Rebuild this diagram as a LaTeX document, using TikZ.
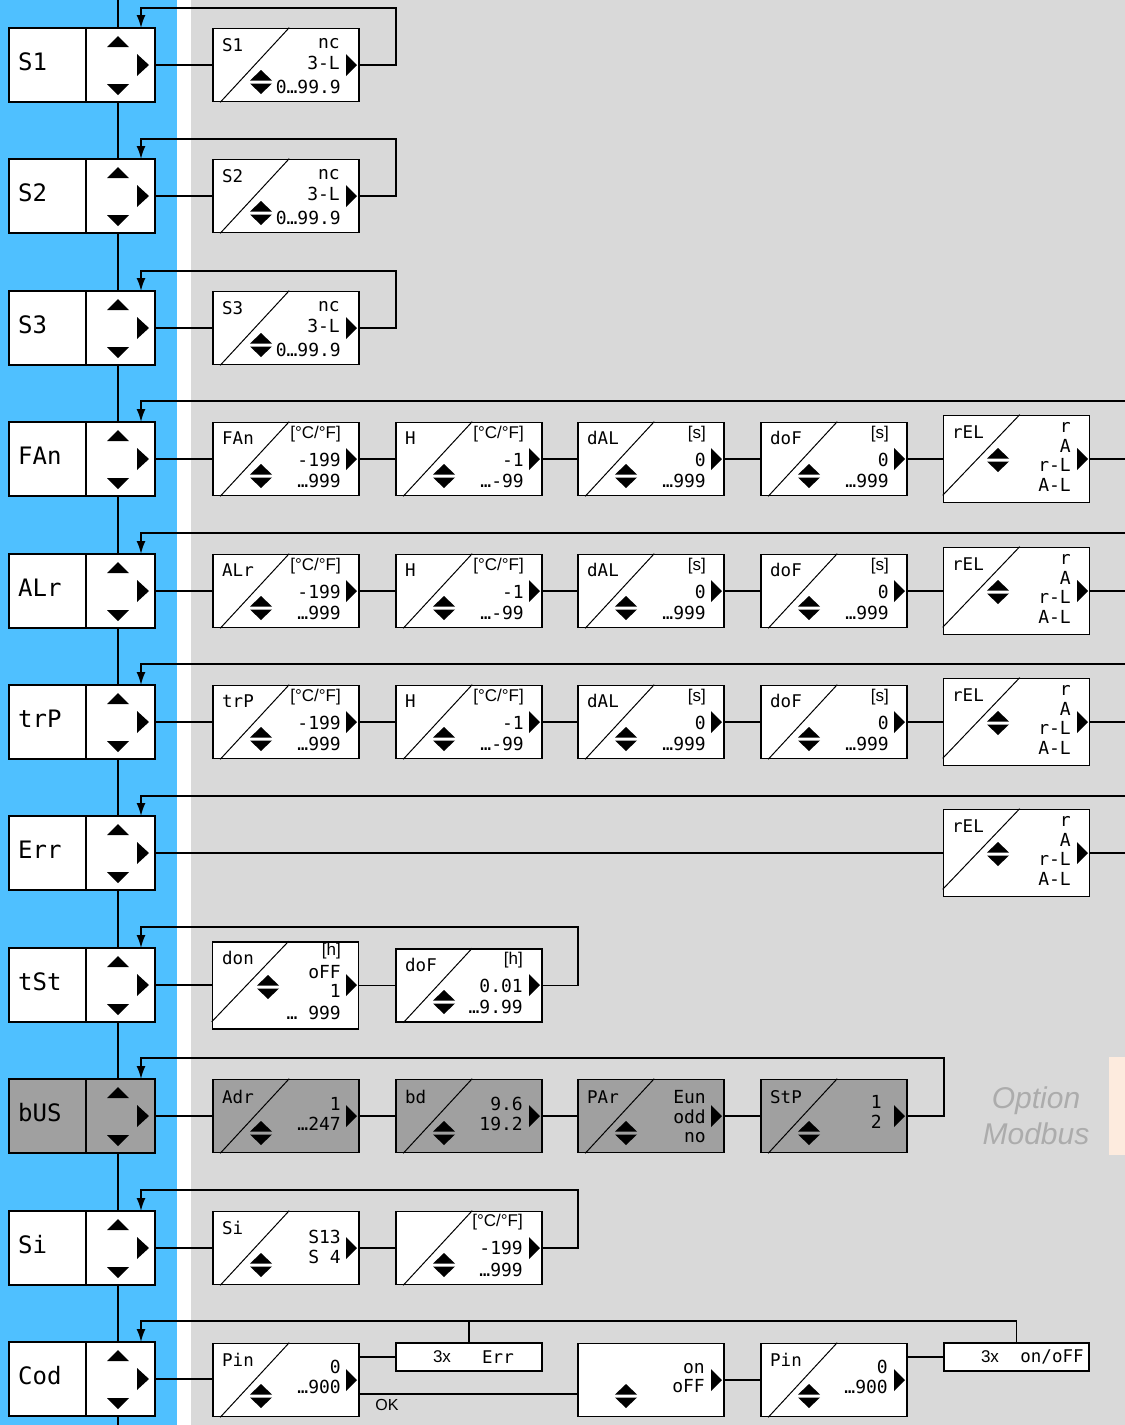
\documentclass[tikz,border=0pt]{standalone}
\usepackage{fontspec}
\setmainfont{Liberation Sans}
\newfontfamily\seg{DejaVu Sans Mono}
\usetikzlibrary{arrows.meta,calc}
\definecolor{bluebg}{RGB}{79,192,255}
\definecolor{graybg}{RGB}{217,217,217}
\definecolor{busgray}{RGB}{160,160,160}
\definecolor{peach}{RGB}{253,235,222}
\definecolor{optgray}{RGB}{172,172,172}
\tikzset{
 ln/.style={line width=1.7pt},
 mainbox/.style={draw, line width=1.6pt, minimum width=146pt, minimum height=74pt, inner sep=0pt},
 pbox/.style={draw, line width=1.6pt, minimum width=146pt, inner sep=0pt},
 smallbox/.style={draw, line width=1.6pt, fill=white, minimum width=146pt, minimum height=28pt, inner sep=0pt},
 seglab/.style={font=\seg\fontsize{24}{24}\selectfont, inner sep=0pt, anchor=west},
 pl/.style={font=\seg\fontsize{17.5}{17.5}\selectfont, inner sep=0pt, anchor=west},
 pv/.style={font=\seg\fontsize{18}{19.5}\selectfont, inner sep=0pt, anchor=east},
 unit/.style={font=\fontsize{17}{17}\selectfont, inner sep=0pt, anchor=east},
 arial/.style={font=\fontsize{17}{17}\selectfont, inner sep=0pt},
 arr/.style={line width=1.7pt, -{Latex[length=13pt,width=9pt]}},
 diag/.style={line width=1pt},
}
\newcommand\UD[2]{\fill (#1-11,#2-1.5) -- (#1+11,#2-1.5) -- (#1,#2-12) -- cycle;
 \fill (#1-11,#2+1.5) -- (#1+11,#2+1.5) -- (#1,#2+12) -- cycle;}
\newcommand\RT[2]{\fill (#1-11,#2-11) -- (#1,#2) -- (#1-11,#2+11) -- cycle;}
\newcommand\MainBox[4]{%
 \node[mainbox, fill=#4] (#1) at (82,#2) {};
 \draw[ln] (86,#2-37) -- (86,#2+37);
 \node[seglab] (#1-lab) at (18,#2-3) {#3};
 \fill (107,#2-18) -- (129,#2-18) -- (118,#2-29) -- cycle;
 \fill (107,#2+19) -- (129,#2+19) -- (118,#2+30) -- cycle;
 \fill (137,#2-11) -- (149,#2) -- (137,#2+11) -- cycle;
 \coordinate (#1-up) at (118,#2-37);
 \coordinate (#1-dn) at (118,#2+37);
 \coordinate (#1-in) at (141,#2-37);
}
\newcommand\PBox[4]{% name, xl, yc, fill
 \node[pbox, fill=#4, minimum height=73pt] (#1) at (#2+73,#3) {};
 \draw[diag] ([xshift=8pt]#1.south west) -- ([xshift=77pt]#1.north west);
}
\newcommand\PBoxT[4]{% tall box
 \node[pbox, fill=#4, minimum height=87pt] (#1) at (#2+72.5,#3) {};
 \draw[diag] ([yshift=8pt]#1.south west) -- ([xshift=77pt]#1.north west);
}
\newcommand\RelBox[2]{% name, yc
 \PBoxT{#1}{944}{#2}{white}
 \node[pl] (#1-l) at (952,#2-27) {rEL};
 \node[pv, align=right] (#1-v) at (1071,#2-2) {r\\A\\r-L\\A-L};
 \UD{998}{#2+1}
 \RT{1088}{#2}
}
\newcommand\TempRow[4]{% main name, yc, label, row tag
 \MainBox{#1}{#2}{#3}{white}
 \PBox{#4a}{213}{#2}{white}
 \node[pl] (#4a-l) at (222,#2-21) {#3};
 \node[unit] (#4a-u) at (341,#2-25) {[°C/°F]};
 \node[pv] (#4a-v1) at (341,#2+1) {-199};
 \node[pv] (#4a-v2) at (341,#2+22) {…999};
 \UD{261}{#2+17}\RT{357}{#2}
 \PBox{#4b}{396}{#2}{white}
 \node[pl] (#4b-l) at (405,#2-21) {H};
 \node[unit] (#4b-u) at (524,#2-25) {[°C/°F]};
 \node[pv] (#4b-v1) at (524,#2+1) {-1};
 \node[pv] (#4b-v2) at (524,#2+22) {…-99};
 \UD{444}{#2+17}\RT{540}{#2}
 \PBox{#4c}{578}{#2}{white}
 \node[pl] (#4c-l) at (587,#2-21) {dAL};
 \node[unit] (#4c-u) at (706,#2-25) {[s]};
 \node[pv] (#4c-v1) at (706,#2+1) {0};
 \node[pv] (#4c-v2) at (706,#2+22) {…999};
 \UD{626}{#2+17}\RT{722}{#2}
 \PBox{#4d}{761}{#2}{white}
 \node[pl] (#4d-l) at (770,#2-21) {doF};
 \node[unit] (#4d-u) at (889,#2-25) {[s]};
 \node[pv] (#4d-v1) at (889,#2+1) {0};
 \node[pv] (#4d-v2) at (889,#2+22) {…999};
 \UD{809}{#2+17}\RT{905}{#2}
 \RelBox{#4e}{#2}
 \draw[ln] (#1.east) -- (#1.east -| #4a.west);
 \draw[ln] (#4a.east) -- (#4b.west);
 \draw[ln] (#4b.east) -- (#4c.west);
 \draw[ln] (#4c.east) -- (#4d.west);
 \draw[ln] (#4d.east) -- (#4e.west);
 \coordinate (#4-o) at (1125,#2);
 \draw[ln] (#4e.east) -- (#4-o);
 \coordinate (#4-t) at (1125,#2-58);
 \draw[arr] (#4-t) -| (#1-in);
}
\newcommand\SRow[4]{% main name, yc, label, tag
 \MainBox{#1}{#2}{#3}{white}
 \PBox{#4}{213}{#2}{white}
 \node[pl] (#4-l) at (222,#2-20) {#3};
 \node[pv] (#4-a) at (340,#2-21) {nc};
 \node[pv] (#4-b) at (340,#2-2) {3-L};
 \node[pv] (#4-c) at (341,#2+22) {0…99.9};
 \UD{261}{#2+17}\RT{357}{#2}
 \draw[ln] (#1.east) -- (#1.east -| #4.west);
 \coordinate (#4-r) at (396,#2-57);
 \draw[arr] (#4.east) -| (#4-r) -| (#1-in);
}
\begin{document}
\begin{tikzpicture}[x=1pt,y=-1pt]
\useasboundingbox (0,0) rectangle (1125,1425);
\clip (0,0) rectangle (1125,1425);
\fill[bluebg] (0,0) rectangle (177,1425);
\fill[white] (177,0) rectangle (191,1425);
\fill[graybg] (191,0) rectangle (1125,1425);
\fill[peach] (1109,1057) rectangle (1125,1155);

% rows S1-S3
\SRow{m1}{65}{S1}{p1}
\SRow{m2}{196}{S2}{p2}
\SRow{m3}{328}{S3}{p3}
% temperature rows
\TempRow{m4}{459}{FAn}{p4}
\TempRow{m5}{591}{ALr}{p5}
\TempRow{m6}{722}{trP}{p6}
% Err
\MainBox{m7}{853}{Err}{white}
\RelBox{p7}{853}
\draw[ln] (m7.east) -- (m7.east -| p7.west);
\coordinate (p7-o) at (1125,853);
\draw[ln] (p7.east) -- (p7-o);
\coordinate (p7-t) at (1125,796);
\draw[arr] (p7-t) -| (m7-in);
% tSt
\MainBox{m8}{985}{tSt}{white}
\PBoxT{p8a}{213}{985.5}{white}
\node[pl] (p8a-l) at (222,958) {don};
\node[unit] (p8a-u) at (341,951) {[h]};
\node[pv, align=right] (p8a-v) at (341,981.5) {oFF\\1};
\node[pv] (p8a-w) at (341,1013) {…\ 999};
\UD{268}{987}\RT{357}{985}
\PBox{p8b}{396}{985.5}{white}
\node[pl] (p8b-l) at (405,965) {doF};
\node[unit] (p8b-u) at (523,960) {[h]};
\node[pv] (p8b-v1) at (523,986) {0.01};
\node[pv] (p8b-v2) at (523,1007) {…9.99};
\UD{444}{1002}\RT{540}{985}
\draw[ln] (m8.east) -- (m8.east -| p8a.west);
\draw[ln] (p8a.east) -- (p8a.east -| p8b.west);
\coordinate (p8-r) at (578,927);
\draw[arr] (p8b.east) -| (p8-r) -| (m8-in);
% bUS
\MainBox{m9}{1116}{bUS}{busgray}
\PBox{p9a}{213}{1116}{busgray}
\node[pl] (p9a-l) at (222,1097) {Adr};
\node[pv] (p9a-v1) at (341,1104) {1};
\node[pv] (p9a-v2) at (341,1124) {…247};
\UD{261}{1133}\RT{357}{1116}
\PBox{p9b}{396}{1116}{busgray}
\node[pl] (p9b-l) at (405,1097) {bd};
\node[pv] (p9b-v1) at (523,1104) {9.6};
\node[pv] (p9b-v2) at (523,1124) {19.2};
\UD{444}{1133}\RT{540}{1116}
\PBox{p9c}{578}{1116}{busgray}
\node[pl] (p9c-l) at (587,1097) {PAr};
\node[pv, align=right] (p9c-v) at (706,1117) {Eun\\odd\\no};
\UD{626}{1133}\RT{722}{1116}
\PBox{p9d}{761}{1116}{busgray}
\node[pl] (p9d-l) at (770,1097) {StP};
\node[pv, align=right] (p9d-v) at (882,1112) {1\\2};
\UD{809}{1133}\RT{905}{1116}
\draw[ln] (m9.east) -- (m9.east -| p9a.west);
\draw[ln] (p9a.east) -- (p9b.west);
\draw[ln] (p9b.east) -- (p9c.west);
\draw[ln] (p9c.east) -- (p9d.west);
\coordinate (p9-r) at (944,1058);
\draw[arr] (p9d.east) -| (p9-r) -| (m9-in);
\node[font=\itshape\fontsize{30}{36}\selectfont, text=optgray, align=center, inner sep=0pt] (opt) at (1036,1116) {Option\\Modbus};
% Si
\MainBox{m10}{1248}{Si}{white}
\PBox{p10a}{213}{1248}{white}
\node[pl] (p10a-l) at (222,1228) {Si};
\node[pv, align=right] (p10a-v) at (341,1247) {S13\\S 4};
\UD{261}{1265}\RT{357}{1248}
\PBox{p10b}{396}{1248}{white}
\node[unit] (p10b-u) at (523,1222) {[°C/°F]};
\node[pv] (p10b-v1) at (523,1248) {-199};
\node[pv] (p10b-v2) at (523,1270) {…999};
\UD{444}{1265}\RT{540}{1248}
\draw[ln] (m10.east) -- (m10.east -| p10a.west);
\draw[ln] (p10a.east) -- (p10b.west);
\coordinate (p10-r) at (578,1190);
\draw[arr] (p10b.east) -| (p10-r) -| (m10-in);
% Cod
\MainBox{m11}{1379}{Cod}{white}
\PBox{p11a}{213}{1380}{white}
\node[pl] (p11a-l) at (222,1360) {Pin};
\node[pv] (p11a-v1) at (341,1367) {0};
\node[pv] (p11a-v2) at (341,1387) {…900};
\UD{261}{1396}\RT{357}{1380}
\node[smallbox] (e11) at (469,1357) {};
\node[arial] (e11-a) at (442,1357) {3x};
\node[pl, anchor=center] (e11-b) at (498,1357) {Err};
\node[pbox, fill=white, minimum height=73pt] (p11b) at (651,1380) {};
\node[pv, align=right] (p11b-v) at (705,1378) {on\\oFF};
\UD{626}{1396}\RT{722}{1380}
\PBox{p11c}{761}{1380}{white}
\node[pl] (p11c-l) at (770,1360) {Pin};
\node[pv] (p11c-v1) at (888,1367) {0};
\node[pv] (p11c-v2) at (888,1387) {…900};
\UD{809}{1396}\RT{905}{1380}
\node[smallbox, minimum width=145pt] (e12) at (1016.5,1357) {};
\node[arial] (e12-a) at (990,1357) {3x};
\node[pl, anchor=center] (e12-b) at (1052,1357) {on/oFF};
\draw[ln] (m11.east) -- (m11.east -| p11a.west);
\draw[ln] (e11.west -| p11a.east) -- (e11.west);
\path (p11a.east) ++(0,14) coordinate (okl);
\draw[ln] (okl) -- (okl -| p11b.west);
\node[arial, font=\fontsize{16}{16}\selectfont] (ok) at (387,1405) {OK};
\draw[ln] (p11b.east) -- (p11c.west);
\draw[ln] (e12.west -| p11c.east) -- (e12.west);
\coordinate (t11) at (141,1321);
\draw[arr] (e12.north) |- (t11) -- (m11-in);
\draw[ln] (e11.north) -- (e11.north |- t11);
% spine
\coordinate (s0) at (118,0);
\coordinate (s12) at (118,1425);
\draw[ln] (s0) -- (m1-up);
\draw[ln] (m1-dn) -- (m2-up);
\draw[ln] (m2-dn) -- (m3-up);
\draw[ln] (m3-dn) -- (m4-up);
\draw[ln] (m4-dn) -- (m5-up);
\draw[ln] (m5-dn) -- (m6-up);
\draw[ln] (m6-dn) -- (m7-up);
\draw[ln] (m7-dn) -- (m8-up);
\draw[ln] (m8-dn) -- (m9-up);
\draw[ln] (m9-dn) -- (m10-up);
\draw[ln] (m10-dn) -- (m11-up);
\draw[ln] (m11-dn) -- (s12);
\end{tikzpicture}
\end{document}
